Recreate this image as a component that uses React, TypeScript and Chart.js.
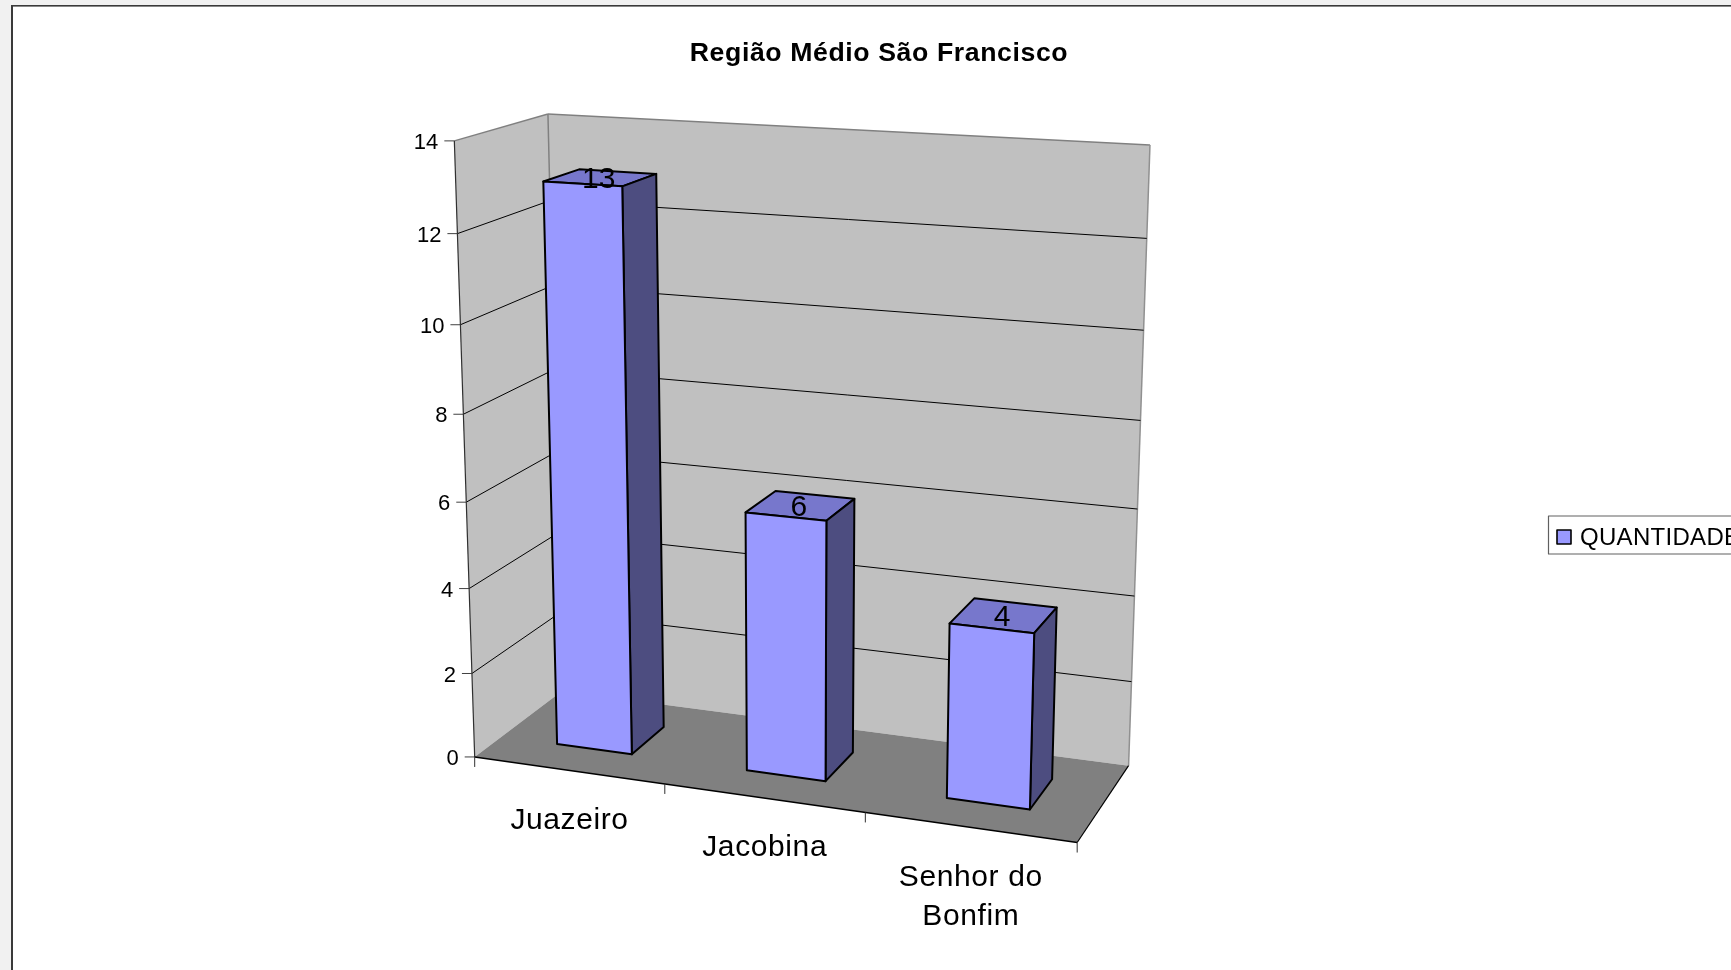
import { useEffect, useRef } from "react";
import { Chart, registerables } from "chart.js";
Chart.register(...registerables);

const categories: (string | string[])[] = ["Juazeiro", "Jacobina", ["Senhor do", "Bonfim"]];
const quantities = [13, 6, 4];
const seriesName = "QUANTIDADE";
const chartTitle = "Região Médio São Francisco";
const yMax = 14;
const yStep = 2;

// Perspective camera (3x4 projective matrix, last term 1) for the box of the 3D plot:
// x = 0..1 along the categories, y = 0..1 up the value axis, z = 0..1 into the depth.
const CAMERA = [
  0.51854, -0.0475, 0.12633, 0.47469,
  0.01993, -0.62449, -0.01732, 0.75695,
  -0.07793, -0.05976, 0.06994,
];
const P = CAMERA;
type Pt = [number, number];
const proj = (x: number, y: number, z: number): Pt => {
  const w = P[8] * x + P[9] * y + P[10] * z + 1;
  return [1000 * (P[0] * x + P[1] * y + P[2] * z + P[3]) / w, 1000 * (P[4] * x + P[5] * y + P[6] * z + P[7]) / w];
};

const SANS = '"Liberation Sans", Arial, sans-serif';
const depthFront = 0.3;
const depthBack = 0.7;

function poly(ctx: CanvasRenderingContext2D, pts: Pt[], fill: string | null, stroke: string | null, lw = 1) {
  ctx.beginPath();
  pts.forEach((p, i) => (i ? ctx.lineTo(p[0], p[1]) : ctx.moveTo(p[0], p[1])));
  ctx.closePath();
  if (fill) { ctx.fillStyle = fill; ctx.fill(); }
  if (stroke) { ctx.strokeStyle = stroke; ctx.lineWidth = lw; ctx.lineJoin = "round"; ctx.stroke(); }
}
function line(ctx: CanvasRenderingContext2D, a: Pt, b: Pt, c: string, lw: number) {
  ctx.beginPath(); ctx.moveTo(a[0], a[1]); ctx.lineTo(b[0], b[1]);
  ctx.strokeStyle = c; ctx.lineWidth = lw; ctx.stroke();
}

const scene = {
  id: "scene3d",
  beforeDraw(chart: any) {
    const { ctx, width, height } = chart;
    ctx.save();
    ctx.fillStyle = "#f1f1f1"; ctx.fillRect(0, 0, width, height);
    ctx.fillStyle = "#ffffff"; ctx.fillRect(12, 6, width, height);
    ctx.fillStyle = "#3a3a3a"; ctx.fillRect(11, 5, 2, height); ctx.fillRect(11, 5, width, 1.6);
    ctx.restore();
    ctx.letterSpacing = "0.6px";
  },
  beforeDatasetsDraw(chart: any) {
    const { ctx, chartArea: ca, scales } = chart;
    const xs = scales.x, ys = scales.y;
    ctx.letterSpacing = "0px";
    const nx = (p: number) => (p - ca.left) / (ca.right - ca.left);
    const ny = (p: number) => (ca.bottom - p) / (ca.bottom - ca.top);
    ctx.save();
    poly(ctx, [proj(0, 0, 0), proj(0, 1, 0), proj(0, 1, 1), proj(0, 0, 1)], "#c0c0c0", null);
    poly(ctx, [proj(0, 0, 1), proj(0, 1, 1), proj(1, 1, 1), proj(1, 0, 1)], "#c0c0c0", null);
    poly(ctx, [proj(0, 0, 0), proj(0, 0, 1), proj(1, 0, 1), proj(1, 0, 0)], "#808080", null);
    line(ctx, proj(0, 1, 0), proj(0, 1, 1), "#808080", 1.5);
    line(ctx, proj(0, 1, 1), proj(1, 1, 1), "#808080", 1.5);
    line(ctx, proj(1, 1, 1), proj(1, 0, 1), "#909090", 1.5);
    line(ctx, proj(0, 1, 1), proj(0, 0, 1), "#808080", 1.5);
    for (const t of ys.ticks) {
      const y = ny(ys.getPixelForValue(t.value));
      const a = proj(0, y, 0);
      if (t.value > 0 && t.value < yMax) {
        line(ctx, a, proj(0, y, 1), "#000", 1);
        line(ctx, proj(0, y, 1), proj(1, y, 1), "#000", 1);
      }
      line(ctx, [a[0] - 10, a[1]], a, "#404040", 1);
      ctx.fillStyle = "#000"; ctx.font = `22px ${SANS}`; ctx.textAlign = "right"; ctx.textBaseline = "middle";
      ctx.fillText(String(t.value), a[0] - 16, a[1] + 2);
    }
    line(ctx, proj(0, 1, 0), proj(0, 0, 0), "#303030", 1.2);
    line(ctx, proj(0, 0, 0), proj(1, 0, 0), "#000", 1.4);
    line(ctx, proj(1, 0, 0), proj(1, 0, 1), "#000", 1.2);
    const step = xs.getPixelForValue(1) - xs.getPixelForValue(0);
    for (let i = 0; i <= categories.length; i++) {
      const p = proj(nx(xs.getPixelForValue(i) - step / 2), 0, 0);
      line(ctx, p, [p[0], p[1] + 10], "#303030", 1);
    }
    ctx.fillStyle = "#000"; ctx.font = `30px ${SANS}`; ctx.textAlign = "center"; ctx.textBaseline = "middle";
    ctx.letterSpacing = "0.6px";
    categories.forEach((c, i) => {
      const p = proj(nx(xs.getPixelForValue(i)), 0, 0);
      (Array.isArray(c) ? c : [c]).forEach((l, k) => ctx.fillText(l, p[0] + 1, p[1] + 50 + k * 39));
    });
    ctx.letterSpacing = "0px";
    const meta = chart.getDatasetMeta(0);
    meta.data.forEach((el: any) => {
      const x0 = nx(el.x - el.width / 2), x1 = nx(el.x + el.width / 2), y0 = ny(el.base), y1 = ny(el.y);
      const zf = depthFront, zb = depthBack;
      poly(ctx, [proj(x0, y1, zf), proj(x1, y1, zf), proj(x1, y1, zb), proj(x0, y1, zb)], "#7777cc", "#000", 2);
      poly(ctx, [proj(x1, y0, zf), proj(x1, y1, zf), proj(x1, y1, zb), proj(x1, y0, zb)], "#4d4d80", "#000", 2);
      poly(ctx, [proj(x0, y0, zf), proj(x1, y0, zf), proj(x1, y1, zf), proj(x0, y1, zf)], "#9999ff", "#000", 2);
    });
    meta.data.forEach((el: any, i: number) => {
      const p = proj(nx(el.x), ny(el.y), 0.5);
      ctx.fillStyle = "#000"; ctx.font = `30px ${SANS}`; ctx.textAlign = "center"; ctx.textBaseline = "middle";
      ctx.fillText(String(quantities[i]), p[0] - 1.5, p[1] + 2);
    });
    // legend, cut by the right edge of the page as in the reference
    poly(ctx, [[1548.5, 516], [1800, 516], [1800, 554], [1548.5, 554]], "#fff", "#606060", 1.2);
    poly(ctx, [[1557, 530], [1571, 530], [1571, 544], [1557, 544]], "#9999ff", "#000", 1.6);
    ctx.fillStyle = "#000"; ctx.font = `24px ${SANS}`; ctx.textAlign = "left"; ctx.textBaseline = "middle";
    ctx.letterSpacing = "0.3px";
    ctx.fillText(seriesName, 1580, 538.5);
    ctx.restore();
    return false;
  },
};

export default function App() {
  const ref = useRef<HTMLCanvasElement>(null);
  useEffect(() => {
    const chart = new Chart(ref.current!, {
      type: "bar",
      data: {
        labels: categories as any,
        datasets: [{ label: seriesName, data: quantities, backgroundColor: "#9999ff", borderColor: "#000", barPercentage: 0.4, categoryPercentage: 1 }],
      },
      options: {
        responsive: false,
        animation: false,
        layout: { padding: { left: 27, right: 0 } },
        scales: { x: { display: false }, y: { display: false, min: 0, max: yMax, ticks: { stepSize: yStep } } },
        plugins: {
          legend: { display: false },
          tooltip: { enabled: false },
          title: { display: true, text: chartTitle, color: "#000", font: { family: SANS, size: 26.67, weight: "bold" }, padding: { top: 37.5, bottom: 10 } },
        },
      },
      plugins: [scene as any],
    });
    return () => chart.destroy();
  }, []);
  return (
    <div style={{ position: "fixed", inset: 0, overflow: "hidden" }}>
      <canvas ref={ref} width={1731} height={970} style={{ display: "block" }} />
    </div>
  );
}
